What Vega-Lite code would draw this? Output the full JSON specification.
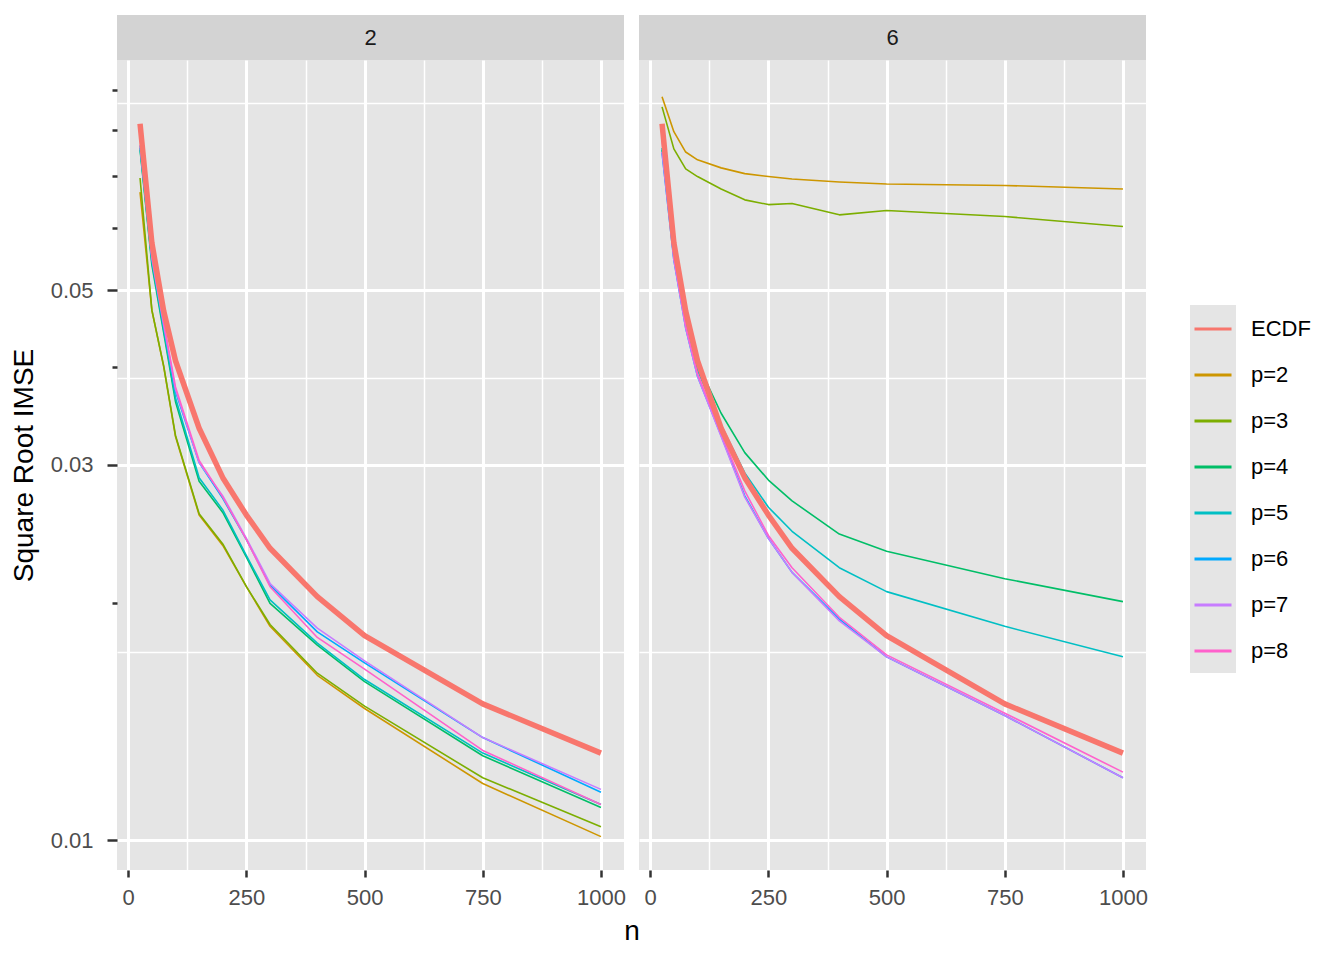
{
  "$schema": "https://vega.github.io/schema/vega-lite/v6.json",
  "background": "white",
  "padding": {"left": 10, "top": 15, "right": 10, "bottom": 10},
  "bounds": "flush",
  "columns": 2,
  "spacing": {"row": 0, "column": 15},
  "resolve": {
    "scale": {"color": "shared", "shape": "shared"},
    "legend": {"color": "shared", "shape": "shared"}
  },
  "datasets": {
    "curves": [
      {"panel":"2","n":25,"method":"ECDF","v":0.0815},{"panel":"2","n":50,"method":"ECDF","v":0.0575},{"panel":"2","n":75,"method":"ECDF","v":0.0471},{"panel":"2","n":100,"method":"ECDF","v":0.0407},{"panel":"2","n":150,"method":"ECDF","v":0.0334},{"panel":"2","n":200,"method":"ECDF","v":0.0289},{"panel":"2","n":250,"method":"ECDF","v":0.0259},{"panel":"2","n":300,"method":"ECDF","v":0.0235},{"panel":"2","n":400,"method":"ECDF","v":0.0204},{"panel":"2","n":500,"method":"ECDF","v":0.0182},{"panel":"2","n":750,"method":"ECDF","v":0.0149},{"panel":"2","n":1000,"method":"ECDF","v":0.0129},
      {"panel":"2","n":25,"method":"p=2","v":0.0667},{"panel":"2","n":50,"method":"p=2","v":0.0472},{"panel":"2","n":75,"method":"p=2","v":0.0400},{"panel":"2","n":100,"method":"p=2","v":0.0326},{"panel":"2","n":150,"method":"p=2","v":0.0259},{"panel":"2","n":200,"method":"p=2","v":0.0237},{"panel":"2","n":250,"method":"p=2","v":0.0210},{"panel":"2","n":300,"method":"p=2","v":0.0187},{"panel":"2","n":400,"method":"p=2","v":0.0162},{"panel":"2","n":500,"method":"p=2","v":0.0147},{"panel":"2","n":750,"method":"p=2","v":0.0118},{"panel":"2","n":1000,"method":"p=2","v":0.0101},
      {"panel":"2","n":25,"method":"p=3","v":0.0695},{"panel":"2","n":50,"method":"p=3","v":0.0472},{"panel":"2","n":75,"method":"p=3","v":0.0401},{"panel":"2","n":100,"method":"p=3","v":0.0327},{"panel":"2","n":150,"method":"p=3","v":0.0260},{"panel":"2","n":200,"method":"p=3","v":0.0238},{"panel":"2","n":250,"method":"p=3","v":0.0210},{"panel":"2","n":300,"method":"p=3","v":0.0188},{"panel":"2","n":400,"method":"p=3","v":0.0163},{"panel":"2","n":500,"method":"p=3","v":0.0148},{"panel":"2","n":750,"method":"p=3","v":0.0120},{"panel":"2","n":1000,"method":"p=3","v":0.0104},
      {"panel":"2","n":25,"method":"p=4","v":0.0755},{"panel":"2","n":50,"method":"p=4","v":0.0539},{"panel":"2","n":75,"method":"p=4","v":0.0442},{"panel":"2","n":100,"method":"p=4","v":0.0361},{"panel":"2","n":150,"method":"p=4","v":0.0286},{"panel":"2","n":200,"method":"p=4","v":0.0261},{"panel":"2","n":250,"method":"p=4","v":0.0229},{"panel":"2","n":300,"method":"p=4","v":0.0200},{"panel":"2","n":400,"method":"p=4","v":0.0177},{"panel":"2","n":500,"method":"p=4","v":0.0159},{"panel":"2","n":750,"method":"p=4","v":0.0128},{"panel":"2","n":1000,"method":"p=4","v":0.0110},
      {"panel":"2","n":25,"method":"p=5","v":0.0759},{"panel":"2","n":50,"method":"p=5","v":0.0544},{"panel":"2","n":75,"method":"p=5","v":0.0446},{"panel":"2","n":100,"method":"p=5","v":0.0365},{"panel":"2","n":150,"method":"p=5","v":0.0289},{"panel":"2","n":200,"method":"p=5","v":0.0263},{"panel":"2","n":250,"method":"p=5","v":0.0230},{"panel":"2","n":300,"method":"p=5","v":0.0202},{"panel":"2","n":400,"method":"p=5","v":0.0178},{"panel":"2","n":500,"method":"p=5","v":0.0160},{"panel":"2","n":750,"method":"p=5","v":0.0129},{"panel":"2","n":1000,"method":"p=5","v":0.0111},
      {"panel":"2","n":25,"method":"p=6","v":0.0764},{"panel":"2","n":50,"method":"p=6","v":0.0550},{"panel":"2","n":75,"method":"p=6","v":0.0451},{"panel":"2","n":100,"method":"p=6","v":0.0372},{"panel":"2","n":150,"method":"p=6","v":0.0302},{"panel":"2","n":200,"method":"p=6","v":0.0272},{"panel":"2","n":250,"method":"p=6","v":0.0241},{"panel":"2","n":300,"method":"p=6","v":0.0211},{"panel":"2","n":400,"method":"p=6","v":0.0184},{"panel":"2","n":500,"method":"p=6","v":0.0168},{"panel":"2","n":750,"method":"p=6","v":0.0135},{"panel":"2","n":1000,"method":"p=6","v":0.0115},
      {"panel":"2","n":25,"method":"p=7","v":0.0766},{"panel":"2","n":50,"method":"p=7","v":0.0550},{"panel":"2","n":75,"method":"p=7","v":0.0452},{"panel":"2","n":100,"method":"p=7","v":0.0374},{"panel":"2","n":150,"method":"p=7","v":0.0302},{"panel":"2","n":200,"method":"p=7","v":0.0274},{"panel":"2","n":250,"method":"p=7","v":0.0242},{"panel":"2","n":300,"method":"p=7","v":0.0212},{"panel":"2","n":400,"method":"p=7","v":0.0186},{"panel":"2","n":500,"method":"p=7","v":0.0169},{"panel":"2","n":750,"method":"p=7","v":0.0135},{"panel":"2","n":1000,"method":"p=7","v":0.0116},
      {"panel":"2","n":25,"method":"p=8","v":0.0784},{"panel":"2","n":50,"method":"p=8","v":0.0553},{"panel":"2","n":75,"method":"p=8","v":0.0455},{"panel":"2","n":100,"method":"p=8","v":0.0377},{"panel":"2","n":150,"method":"p=8","v":0.0304},{"panel":"2","n":200,"method":"p=8","v":0.0273},{"panel":"2","n":250,"method":"p=8","v":0.0241},{"panel":"2","n":300,"method":"p=8","v":0.0210},{"panel":"2","n":400,"method":"p=8","v":0.0181},{"panel":"2","n":500,"method":"p=8","v":0.0165},{"panel":"2","n":750,"method":"p=8","v":0.0130},{"panel":"2","n":1000,"method":"p=8","v":0.0111},
      {"panel":"6","n":25,"method":"ECDF","v":0.0815},{"panel":"6","n":50,"method":"ECDF","v":0.0575},{"panel":"6","n":75,"method":"ECDF","v":0.0471},{"panel":"6","n":100,"method":"ECDF","v":0.0407},{"panel":"6","n":150,"method":"ECDF","v":0.0334},{"panel":"6","n":200,"method":"ECDF","v":0.0289},{"panel":"6","n":250,"method":"ECDF","v":0.0259},{"panel":"6","n":300,"method":"ECDF","v":0.0235},{"panel":"6","n":400,"method":"ECDF","v":0.0204},{"panel":"6","n":500,"method":"ECDF","v":0.0182},{"panel":"6","n":750,"method":"ECDF","v":0.0149},{"panel":"6","n":1000,"method":"ECDF","v":0.0129},
      {"panel":"6","n":25,"method":"p=2","v":0.0882},{"panel":"6","n":50,"method":"p=2","v":0.0796},{"panel":"6","n":75,"method":"p=2","v":0.0750},{"panel":"6","n":100,"method":"p=2","v":0.0733},{"panel":"6","n":150,"method":"p=2","v":0.0716},{"panel":"6","n":200,"method":"p=2","v":0.0704},{"panel":"6","n":250,"method":"p=2","v":0.0698},{"panel":"6","n":300,"method":"p=2","v":0.0693},{"panel":"6","n":400,"method":"p=2","v":0.0687},{"panel":"6","n":500,"method":"p=2","v":0.0683},{"panel":"6","n":750,"method":"p=2","v":0.0680},{"panel":"6","n":1000,"method":"p=2","v":0.0673},
      {"panel":"6","n":25,"method":"p=3","v":0.0856},{"panel":"6","n":50,"method":"p=3","v":0.0757},{"panel":"6","n":75,"method":"p=3","v":0.0714},{"panel":"6","n":100,"method":"p=3","v":0.0698},{"panel":"6","n":150,"method":"p=3","v":0.0673},{"panel":"6","n":200,"method":"p=3","v":0.0652},{"panel":"6","n":250,"method":"p=3","v":0.0643},{"panel":"6","n":300,"method":"p=3","v":0.0645},{"panel":"6","n":400,"method":"p=3","v":0.0624},{"panel":"6","n":500,"method":"p=3","v":0.0632},{"panel":"6","n":750,"method":"p=3","v":0.0621},{"panel":"6","n":1000,"method":"p=3","v":0.0603},
      {"panel":"6","n":25,"method":"p=4","v":0.0755},{"panel":"6","n":50,"method":"p=4","v":0.0555},{"panel":"6","n":75,"method":"p=4","v":0.0461},{"panel":"6","n":100,"method":"p=4","v":0.0404},{"panel":"6","n":150,"method":"p=4","v":0.0349},{"panel":"6","n":200,"method":"p=4","v":0.0311},{"panel":"6","n":250,"method":"p=4","v":0.0287},{"panel":"6","n":300,"method":"p=4","v":0.0270},{"panel":"6","n":400,"method":"p=4","v":0.0245},{"panel":"6","n":500,"method":"p=4","v":0.0233},{"panel":"6","n":750,"method":"p=4","v":0.0215},{"panel":"6","n":1000,"method":"p=4","v":0.0201},
      {"panel":"6","n":25,"method":"p=5","v":0.0759},{"panel":"6","n":50,"method":"p=5","v":0.0550},{"panel":"6","n":75,"method":"p=5","v":0.0452},{"panel":"6","n":100,"method":"p=5","v":0.0396},{"panel":"6","n":150,"method":"p=5","v":0.0337},{"panel":"6","n":200,"method":"p=5","v":0.0293},{"panel":"6","n":250,"method":"p=5","v":0.0265},{"panel":"6","n":300,"method":"p=5","v":0.0247},{"panel":"6","n":400,"method":"p=5","v":0.0222},{"panel":"6","n":500,"method":"p=5","v":0.0207},{"panel":"6","n":750,"method":"p=5","v":0.0187},{"panel":"6","n":1000,"method":"p=5","v":0.0171},
      {"panel":"6","n":25,"method":"p=6","v":0.0748},{"panel":"6","n":50,"method":"p=6","v":0.0547},{"panel":"6","n":75,"method":"p=6","v":0.0448},{"panel":"6","n":100,"method":"p=6","v":0.0389},{"panel":"6","n":150,"method":"p=6","v":0.0327},{"panel":"6","n":200,"method":"p=6","v":0.0274},{"panel":"6","n":250,"method":"p=6","v":0.0242},{"panel":"6","n":300,"method":"p=6","v":0.0219},{"panel":"6","n":400,"method":"p=6","v":0.0191},{"panel":"6","n":500,"method":"p=6","v":0.0171},{"panel":"6","n":750,"method":"p=6","v":0.0144},{"panel":"6","n":1000,"method":"p=6","v":0.0120},
      {"panel":"6","n":25,"method":"p=7","v":0.0750},{"panel":"6","n":50,"method":"p=7","v":0.0547},{"panel":"6","n":75,"method":"p=7","v":0.0448},{"panel":"6","n":100,"method":"p=7","v":0.0389},{"panel":"6","n":150,"method":"p=7","v":0.0326},{"panel":"6","n":200,"method":"p=7","v":0.0273},{"panel":"6","n":250,"method":"p=7","v":0.0242},{"panel":"6","n":300,"method":"p=7","v":0.0219},{"panel":"6","n":400,"method":"p=7","v":0.0190},{"panel":"6","n":500,"method":"p=7","v":0.0171},{"panel":"6","n":750,"method":"p=7","v":0.0144},{"panel":"6","n":1000,"method":"p=7","v":0.0120},
      {"panel":"6","n":25,"method":"p=8","v":0.0777},{"panel":"6","n":50,"method":"p=8","v":0.0552},{"panel":"6","n":75,"method":"p=8","v":0.0451},{"panel":"6","n":100,"method":"p=8","v":0.0392},{"panel":"6","n":150,"method":"p=8","v":0.0329},{"panel":"6","n":200,"method":"p=8","v":0.0278},{"panel":"6","n":250,"method":"p=8","v":0.0244},{"panel":"6","n":300,"method":"p=8","v":0.0222},{"panel":"6","n":400,"method":"p=8","v":0.0192},{"panel":"6","n":500,"method":"p=8","v":0.0172},{"panel":"6","n":750,"method":"p=8","v":0.0145},{"panel":"6","n":1000,"method":"p=8","v":0.0122}
    ]
  },
  "concat": [
    {
      "width": 507,
      "height": 45,
      "view": {"fill": "#D3D3D3", "stroke": null},
      "data": {"values": [{"panel": "2"}]},
      "mark": {"type": "text", "fontSize": 22, "color": "#1A1A1A", "align": "center", "baseline": "middle"},
      "encoding": {"text": {"field": "panel", "type": "nominal"}}
    },
    {
      "width": 507,
      "height": 45,
      "view": {"fill": "#D3D3D3", "stroke": null},
      "data": {"values": [{"panel": "6"}]},
      "mark": {"type": "text", "fontSize": 22, "color": "#1A1A1A", "align": "center", "baseline": "middle"},
      "encoding": {"text": {"field": "panel", "type": "nominal"}}
    },
    {
      "width": 507,
      "height": 810,
      "view": {"fill": "#E5E5E5", "stroke": null},
      "data": {"name": "curves"},
      "transform": [{"filter": "datum.panel === '2'"}],
      "encoding": {
        "x": {
          "field": "n",
          "type": "quantitative",
          "scale": {"domain": [-23.75, 1048.75], "nice": false, "zero": false},
          "axis": {
            "title": "n",
            "titleX": 514.5,
            "titlePadding": 9,
            "values": [0, 125, 250, 375, 500, 625, 750, 875, 1000],
            "labelExpr": "datum.value % 250 == 0 ? format(datum.value, 'd') : ''",
            "tickOpacity": {"condition": {"test": "datum.value % 250 != 0", "value": 0}, "value": 1},
            "gridWidth": {"condition": {"test": "datum.value % 250 == 0", "value": 3}, "value": 1.5},
            "tickSize": 7,
            "labelPadding": 10
          }
        },
        "y": {
          "field": "v",
          "type": "quantitative",
          "scale": {"type": "log", "domain": [0.00916, 0.0982], "nice": false, "zero": false},
          "axis": {
            "title": "Square Root IMSE",
            "titlePadding": 12,
            "values": [0.01, 0.0173205, 0.02, 0.03, 0.0387298, 0.04, 0.05, 0.06, 0.07, 0.08, 0.0866025, 0.09],
            "labelExpr": "datum.value == 0.01 ? '0.01' : datum.value == 0.03 ? '0.03' : datum.value == 0.05 ? '0.05' : ''",
            "tickSize": {"condition": {"test": "datum.value == 0.01 || datum.value == 0.03 || datum.value == 0.05", "value": 10}, "value": 5},
            "tickOpacity": {"condition": {"test": "datum.value == 0.0173205 || datum.value == 0.0387298 || datum.value == 0.0866025", "value": 0}, "value": 1},
            "gridWidth": {"condition": {"test": "datum.value == 0.01 || datum.value == 0.03 || datum.value == 0.05", "value": 3}, "value": 1.5},
            "gridOpacity": {"condition": {"test": "datum.value == 0.02 || datum.value == 0.04 || datum.value == 0.06 || datum.value == 0.07 || datum.value == 0.08 || datum.value == 0.09", "value": 0}, "value": 1},
            "labelPadding": 14
          }
        },
        "color": {
          "field": "method",
          "type": "nominal",
          "scale": {
            "domain": ["ECDF", "p=2", "p=3", "p=4", "p=5", "p=6", "p=7", "p=8"],
            "range": ["#F8766D", "#CD9600", "#7CAE00", "#00BE67", "#00BFC4", "#00A9FF", "#C77CFF", "#FF61CC"]
          },
          "legend": {
            "title": null,
            "orient": "none",
            "legendX": 1076,
            "legendY": 294,
            "symbolType": "stroke",
            "symbolSize": 1369,
            "symbolStrokeWidth": 3,
            "labelFontSize": 22,
            "labelColor": "black",
            "labelOffset": 18,
            "rowPadding": 15,
            "padding": 0,
            "zindex": 2
          }
        }
      },
      "layer": [
        {
          "mark": {"type": "point", "filled": true, "opacity": 0, "size": 4},
          "encoding": {
            "color": {"value": "#E5E5E5"},
            "shape": {
              "field": "method",
              "type": "nominal",
              "scale": {"range": ["square"]},
              "legend": {
                "title": null,
                "orient": "none",
                "legendX": 1073,
                "legendY": 290,
                "symbolSize": 2116,
                "symbolOpacity": 1,
                "symbolFillColor": "#E5E5E5",
                "symbolStrokeWidth": 0,
                "labelExpr": "''",
                "labelFontSize": 22,
                "rowPadding": 0,
                "padding": 0,
                "zindex": 1
              }
            }
          }
        },
        {
          "transform": [{"filter": "datum.method !== 'ECDF'"}],
          "mark": {"type": "line", "strokeWidth": 1.6, "strokeJoin": "round", "strokeCap": "butt"}
        },
        {
          "transform": [{"filter": "datum.method === 'ECDF'"}],
          "mark": {"type": "line", "strokeWidth": 5.5, "strokeJoin": "round", "strokeCap": "butt"}
        }
      ]
    },
    {
      "width": 507,
      "height": 810,
      "view": {"fill": "#E5E5E5", "stroke": null},
      "data": {"name": "curves"},
      "transform": [{"filter": "datum.panel === '6'"}],
      "encoding": {
        "x": {
          "field": "n",
          "type": "quantitative",
          "scale": {"domain": [-23.75, 1048.75], "nice": false, "zero": false},
          "axis": {
            "title": null,
            "values": [0, 125, 250, 375, 500, 625, 750, 875, 1000],
            "labelExpr": "datum.value % 250 == 0 ? format(datum.value, 'd') : ''",
            "tickOpacity": {"condition": {"test": "datum.value % 250 != 0", "value": 0}, "value": 1},
            "gridWidth": {"condition": {"test": "datum.value % 250 == 0", "value": 3}, "value": 1.5},
            "tickSize": 7,
            "labelPadding": 10
          }
        },
        "y": {
          "field": "v",
          "type": "quantitative",
          "scale": {"type": "log", "domain": [0.00916, 0.0982], "nice": false, "zero": false},
          "axis": {
            "title": null,
            "values": [0.01, 0.0173205, 0.02, 0.03, 0.0387298, 0.04, 0.05, 0.06, 0.07, 0.08, 0.0866025, 0.09],
            "labels": false,
            "ticks": false,
            "gridWidth": {"condition": {"test": "datum.value == 0.01 || datum.value == 0.03 || datum.value == 0.05", "value": 3}, "value": 1.5},
            "gridOpacity": {"condition": {"test": "datum.value == 0.02 || datum.value == 0.04 || datum.value == 0.06 || datum.value == 0.07 || datum.value == 0.08 || datum.value == 0.09", "value": 0}, "value": 1}
          }
        },
        "color": {
          "field": "method",
          "type": "nominal",
          "scale": {
            "domain": ["ECDF", "p=2", "p=3", "p=4", "p=5", "p=6", "p=7", "p=8"],
            "range": ["#F8766D", "#CD9600", "#7CAE00", "#00BE67", "#00BFC4", "#00A9FF", "#C77CFF", "#FF61CC"]
          }
        }
      },
      "layer": [
        {
          "transform": [{"filter": "datum.method !== 'ECDF'"}],
          "mark": {"type": "line", "strokeWidth": 1.6, "strokeJoin": "round", "strokeCap": "butt"}
        },
        {
          "transform": [{"filter": "datum.method === 'ECDF'"}],
          "mark": {"type": "line", "strokeWidth": 5.5, "strokeJoin": "round", "strokeCap": "butt"}
        }
      ]
    }
  ],
  "config": {
    "font": "Liberation Sans",
    "view": {"stroke": null},
    "axis": {
      "domain": false,
      "labelColor": "#4D4D4D",
      "labelFontSize": 22,
      "tickColor": "#333333",
      "tickWidth": 2.5,
      "gridColor": "white",
      "titleFontSize": 28,
      "titleFontWeight": "normal",
      "titleColor": "black"
    }
  }
}
